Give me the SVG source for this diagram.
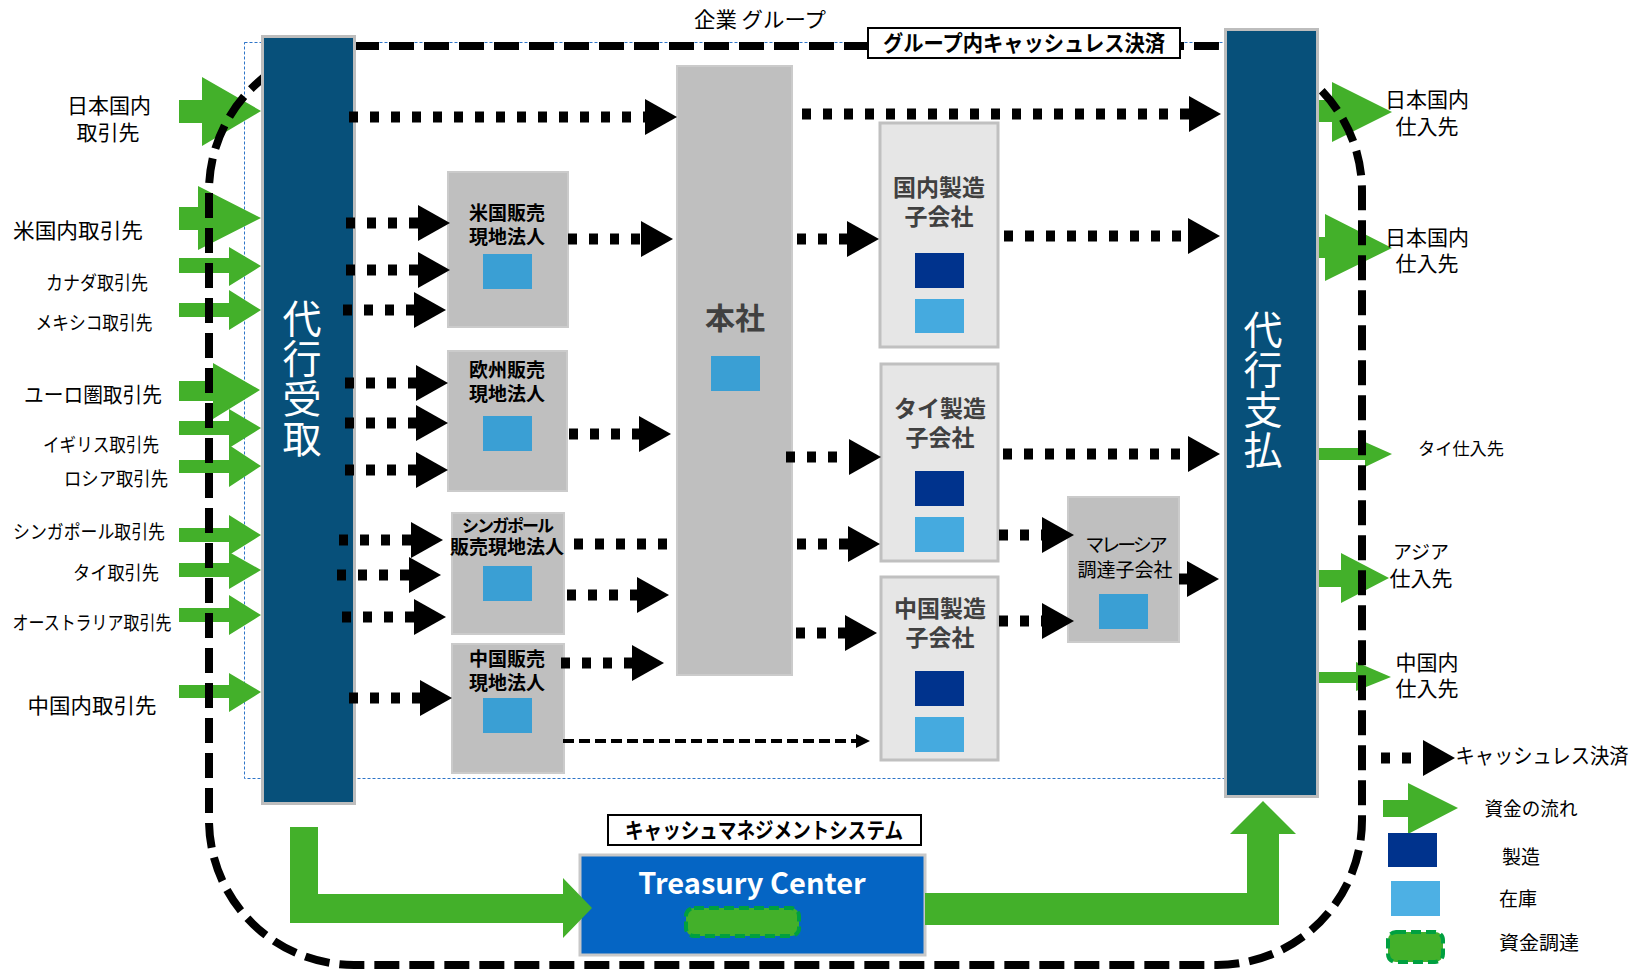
<svg xmlns="http://www.w3.org/2000/svg" width="1646" height="971" viewBox="0 0 1646 971">
<defs>
<style>
text{font-family:"Noto Sans CJK JP","Noto Sans",sans-serif}
.l19{font-size:19px;fill:#000;text-anchor:middle}
.l21{font-size:21px;fill:#000;text-anchor:middle}
.l17{font-size:17px;fill:#000;text-anchor:middle}
.bar{fill:#07507a;stroke:#bdbdbd;stroke-width:3}
.bt{font-size:39px;fill:#fff;writing-mode:vertical-rl;letter-spacing:1px}
.gbox{fill:#bfbfbf;stroke:#cbcbcb;stroke-width:2}
.mbox{fill:#e6e6e6;stroke:#c0c0c0;stroke-width:3}
.sq{fill:#3a9fd4}
.inv{fill:#45aadf}
.mfg{fill:#00338d}
.btx{font-size:19px;font-weight:bold;fill:#000;text-anchor:middle}
.mtx{font-size:23px;font-weight:bold;fill:#404040;text-anchor:middle}
.dot{stroke:#000;stroke-width:11;stroke-dasharray:9 12;fill:none;marker-end:url(#ah)}
.seg{stroke:#000;stroke-width:11;stroke-dasharray:9 12;fill:none}
.grn{fill:#43b02a}
.tag{fill:#fff;stroke:#000;stroke-width:2}
.tagt{font-size:22px;font-weight:bold;fill:#000;text-anchor:middle}
</style>
<marker id="ah" markerUnits="userSpaceOnUse" markerWidth="32" markerHeight="36" refX="0" refY="18" orient="auto" overflow="visible"><path d="M0,0 L32,18 L0,36 z" fill="#000"/></marker>
<marker id="ahs" markerUnits="userSpaceOnUse" markerWidth="14" markerHeight="14" refX="0" refY="7" orient="auto" overflow="visible"><path d="M0,0 L14,7 L0,14 z" fill="#000"/></marker>
</defs>

<g id="group-boundary">
<rect x="244.5" y="42.5" width="985" height="736" fill="none" stroke="#2e75c8" stroke-width="1" stroke-dasharray="3 2"/>
<text x="760" y="27" class="l21" textLength="132" lengthAdjust="spacingAndGlyphs">企業 グループ</text>
</g>

<g id="money-flows">
<polygon class="grn" points="179,100 202,100 202,77 261,111 202,146 202,123 179,123"/>
<polygon class="grn" points="179,207 198,207 198,186 261,218 198,250 198,230 179,230"/>
<polygon class="grn" points="179,258 229,258 229,247 261,266 229,286 229,273 179,273"/>
<polygon class="grn" points="179,303 229,303 229,290 261,310 229,330 229,317 179,317"/>
<polygon class="grn" points="179,381 213,381 213,363 260,390 213,419 213,401 179,401"/>
<polygon class="grn" points="179,421 229,421 229,409 261,428 229,448 229,435 179,435"/>
<polygon class="grn" points="179,460 229,460 229,445 261,466 229,487 229,473 179,473"/>
<polygon class="grn" points="179,528 229,528 229,515 261,535 229,555 229,542 179,542"/>
<polygon class="grn" points="179,563 229,563 229,552 261,570 229,589 229,577 179,577"/>
<polygon class="grn" points="179,608 229,608 229,595 261,615 229,635 229,622 179,622"/>
<polygon class="grn" points="179,685 229,685 229,673 261,692 229,712 229,698 179,698"/>
<polygon class="grn" points="1316,100 1332,100 1332,82 1392,112 1332,142 1332,122 1316,122"/>
<polygon class="grn" points="1316,237 1325,237 1325,214 1392,248 1325,281 1325,258 1316,258"/>
<polygon class="grn" points="1316,448 1365,448 1365,442 1392,454 1365,467 1365,460 1316,460"/>
<polygon class="grn" points="1316,570 1341,570 1341,553 1389,578 1341,603 1341,587 1316,587"/>
<polygon class="grn" points="1316,672 1356,672 1356,662 1391,677 1356,691 1356,683 1316,683"/>
</g>

<g id="cashless-loop">
<rect x="209" y="46" width="1153" height="919" rx="145" ry="145" fill="none" stroke="#000" stroke-width="8" stroke-dasharray="25 10"/>
</g>

<g id="dairi-uketori">
<rect class="bar" x="262.5" y="36.5" width="92" height="767"/>
<text class="bt" x="302" y="299">代行受取</text>
</g>
<g id="dairi-shiharai">
<rect class="bar" x="1225.5" y="29.5" width="92" height="767"/>
<text class="bt" x="1263" y="310">代行支払</text>
</g>

<g id="labels-left">
<text class="l21"><tspan x="109" y="113">日本国内</tspan><tspan x="108" y="140">取引先</tspan></text>
<text class="l21" x="78" y="238" textLength="130" lengthAdjust="spacingAndGlyphs">米国内取引先</text>
<text class="l19" x="97" y="290" textLength="102" lengthAdjust="spacingAndGlyphs">カナダ取引先</text>
<text class="l19" x="94" y="330" textLength="117" lengthAdjust="spacingAndGlyphs">メキシコ取引先</text>
<text class="l21" x="93" y="402" textLength="138" lengthAdjust="spacingAndGlyphs">ユーロ圏取引先</text>
<text class="l19" x="101" y="452" textLength="116" lengthAdjust="spacingAndGlyphs">イギリス取引先</text>
<text class="l19" x="116" y="486" textLength="104" lengthAdjust="spacingAndGlyphs">ロシア取引先</text>
<text class="l19" x="89" y="539" textLength="152" lengthAdjust="spacingAndGlyphs">シンガポール取引先</text>
<text class="l19" x="116" y="580" textLength="86" lengthAdjust="spacingAndGlyphs">タイ取引先</text>
<text class="l19" x="92" y="630" textLength="159" lengthAdjust="spacingAndGlyphs">オーストラリア取引先</text>
<text class="l21" x="92" y="713" textLength="129" lengthAdjust="spacingAndGlyphs">中国内取引先</text>
</g>

<g id="labels-right">
<text class="l21"><tspan x="1427" y="107">日本国内</tspan><tspan x="1427" y="134">仕入先</tspan></text>
<text class="l21"><tspan x="1427" y="245">日本国内</tspan><tspan x="1427" y="271">仕入先</tspan></text>
<text class="l17" x="1461" y="455" textLength="86" lengthAdjust="spacingAndGlyphs">タイ仕入先</text>
<text class="l21"><tspan x="1421" y="559" font-size="19">アジア</tspan><tspan x="1421" y="586">仕入先</tspan></text>
<text class="l21"><tspan x="1427" y="670">中国内</tspan><tspan x="1427" y="696">仕入先</tspan></text>
</g>

<g id="us-sales">
<rect class="gbox" x="448" y="172" width="120" height="155"/>
<text class="btx"><tspan x="507" y="220">米国販売</tspan><tspan x="507" y="244">現地法人</tspan></text>
<rect class="sq" x="483" y="254" width="49" height="35"/>
</g>
<g id="eu-sales">
<rect class="gbox" x="448" y="351" width="119" height="140"/>
<text class="btx"><tspan x="507" y="377">欧州販売</tspan><tspan x="507" y="401">現地法人</tspan></text>
<rect class="sq" x="483" y="416" width="49" height="35"/>
</g>
<g id="sg-sales">
<rect class="gbox" x="452" y="513" width="112" height="121"/>
<text class="btx"><tspan x="507" y="532" font-size="17" letter-spacing="-2">シンガポール</tspan><tspan x="507" y="554">販売現地法人</tspan></text>
<rect class="sq" x="483" y="566" width="49" height="35"/>
</g>
<g id="cn-sales">
<rect class="gbox" x="452" y="644" width="112" height="129"/>
<text class="btx"><tspan x="507" y="666">中国販売</tspan><tspan x="507" y="690">現地法人</tspan></text>
<rect class="sq" x="483" y="698" width="49" height="35"/>
</g>
<g id="honsha">
<rect class="gbox" x="677" y="66" width="115" height="609"/>
<text x="735" y="329" font-size="30" font-weight="bold" fill="#404040" text-anchor="middle">本社</text>
<rect class="sq" x="711" y="356" width="49" height="35"/>
</g>
<g id="jp-mfg">
<rect class="mbox" x="880" y="123" width="118" height="224"/>
<text class="mtx"><tspan x="939" y="196">国内製造</tspan><tspan x="939" y="225">子会社</tspan></text>
<rect class="mfg" x="915" y="253" width="49" height="35"/>
<rect class="inv" x="915" y="299" width="49" height="34"/>
</g>
<g id="th-mfg">
<rect class="mbox" x="881" y="364" width="117" height="197"/>
<text class="mtx"><tspan x="940" y="417">タイ製造</tspan><tspan x="940" y="446">子会社</tspan></text>
<rect class="mfg" x="915" y="471" width="49" height="35"/>
<rect class="inv" x="915" y="517" width="49" height="35"/>
</g>
<g id="cn-mfg">
<rect class="mbox" x="881" y="577" width="117" height="183"/>
<text class="mtx"><tspan x="940" y="617">中国製造</tspan><tspan x="940" y="646">子会社</tspan></text>
<rect class="mfg" x="915" y="671" width="49" height="35"/>
<rect class="inv" x="915" y="717" width="49" height="35"/>
</g>
<g id="my-proc">
<rect class="gbox" x="1068" y="497" width="111" height="145"/>
<text class="l19"><tspan x="1125" y="552" letter-spacing="-3">マレーシア</tspan><tspan x="1125" y="577">調達子会社</tspan></text>
<rect class="sq" x="1099" y="594" width="49" height="35"/>
</g>

<g id="group-tag">
<rect class="tag" x="868" y="28" width="312" height="30"/>
<text class="tagt" x="1024" y="51" textLength="282" lengthAdjust="spacingAndGlyphs">グループ内キャッシュレス決済</text>
</g>

<g id="connectors">
<line class="dot" x1="349" y1="117" x2="645" y2="117"/>
<line class="dot" x1="802" y1="114" x2="1189" y2="114"/>
<line class="dot" x1="346" y1="223" x2="418" y2="223"/>
<line class="dot" x1="346" y1="270" x2="418" y2="270"/>
<line class="dot" x1="343" y1="310" x2="414" y2="310"/>
<line class="dot" x1="345" y1="383" x2="416" y2="383"/>
<line class="dot" x1="345" y1="423" x2="416" y2="423"/>
<line class="dot" x1="345" y1="470" x2="416" y2="470"/>
<line class="dot" x1="339" y1="540" x2="411" y2="540"/>
<line class="dot" x1="337" y1="575" x2="409" y2="575"/>
<line class="dot" x1="342" y1="617" x2="414" y2="617"/>
<line class="dot" x1="349" y1="698" x2="420" y2="698"/>
<line class="dot" x1="568" y1="239" x2="641" y2="239"/>
<line class="dot" x1="569" y1="434" x2="639" y2="434"/>
<line class="dot" x1="567" y1="595" x2="637" y2="595"/>
<line class="dot" x1="561" y1="663" x2="632" y2="663"/>
<line class="dot" x1="797" y1="239" x2="847" y2="239"/>
<line class="dot" x1="786" y1="457" x2="849" y2="457"/>
<line class="seg" x1="574" y1="544" x2="677" y2="544"/>
<line class="dot" x1="797" y1="544" x2="848" y2="544"/>
<line class="dot" x1="796" y1="633" x2="845" y2="633"/>
<line class="dot" x1="1004" y1="236" x2="1188" y2="236"/>
<line class="dot" x1="1003" y1="454" x2="1188" y2="454"/>
<line class="dot" x1="999" y1="535" x2="1042" y2="535"/>
<line class="dot" x1="999" y1="621" x2="1042" y2="621"/>
<line class="dot" x1="1179" y1="579" x2="1187" y2="579"/>
<line x1="563" y1="741" x2="856" y2="741" stroke="#000" stroke-width="4" stroke-dasharray="11 5" marker-end="url(#ahs)"/>
</g>

<g id="cms-tag">
<rect class="tag" x="608" y="815" width="313" height="30"/>
<text class="tagt" x="764" y="838" textLength="278" lengthAdjust="spacingAndGlyphs">キャッシュマネジメントシステム</text>
</g>
<g id="treasury-center">
<rect x="580" y="855" width="345" height="100" fill="#0565c4" stroke="#c8c8c8" stroke-width="3"/>
<text x="752" y="894" font-family="Liberation Sans, Arial, sans-serif" font-size="29" font-weight="bold" fill="#fff" text-anchor="middle">Treasury Center</text>
<rect x="686" y="908" width="113" height="28" rx="8" fill="#43b02a" stroke="#00a040" stroke-width="4" stroke-dasharray="10 5"/>
</g>
<g id="funding-flows">
<polygon class="grn" points="290,827 318,827 318,894 563,894 563,878 592,908 563,938 563,923 290,923"/>
<polygon class="grn" points="925,893 1247,893 1247,834 1230,834 1263,801 1296,834 1279,834 1279,925 925,925"/>
</g>

<g id="legend">
<line class="dot" x1="1381" y1="758" x2="1423" y2="758"/>
<text class="l21" x="1542" y="763" textLength="173" lengthAdjust="spacingAndGlyphs">キャッシュレス決済</text>
<polygon class="grn" points="1383,800 1408,800 1408,783 1458,808 1408,834 1408,817 1383,817"/>
<text class="l19" x="1531" y="816" font-size="18" textLength="93" lengthAdjust="spacingAndGlyphs">資金の流れ</text>
<rect class="mfg" x="1388" y="833" width="49" height="34"/>
<text class="l19" x="1521" y="864">製造</text>
<rect x="1391" y="881" width="49" height="35" fill="#4db0e4"/>
<text class="l19" x="1518" y="906">在庫</text>
<rect x="1388" y="932" width="55" height="30" rx="8" fill="#43b02a" stroke="#00a040" stroke-width="4" stroke-dasharray="10 5"/>
<text class="l19" x="1539" y="950" textLength="80" lengthAdjust="spacingAndGlyphs">資金調達</text>
</g>
</svg>
